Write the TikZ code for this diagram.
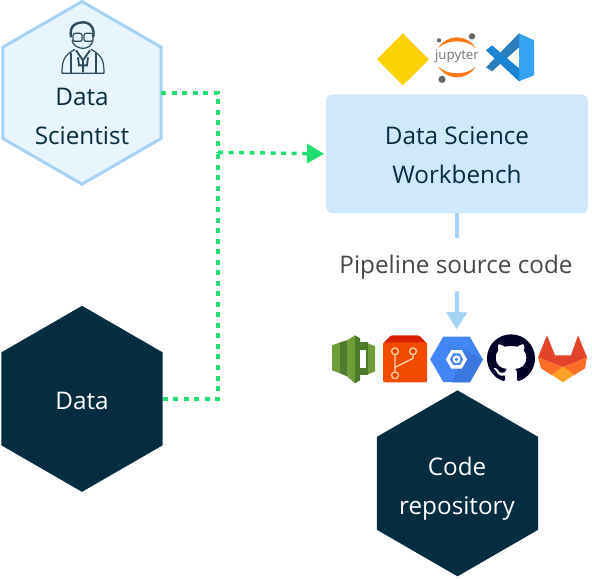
\documentclass[tikz,border=0pt]{standalone}
\usepackage{fontspec}
\setmainfont{Open Sans}
\usetikzlibrary{shapes.geometric, positioning, arrows.meta, svg.path}
\definecolor{navy}{HTML}{062C40}
\definecolor{skyline}{HTML}{A5D3F5}
\definecolor{skyfill}{HTML}{E9F5FD}
\definecolor{benchfill}{HTML}{CFE8FB}
\definecolor{linkgreen}{HTML}{1EDF6F}
\definecolor{leaflight}{HTML}{6E9E3A}
\definecolor{leafdark}{HTML}{4E7A2B}
\definecolor{gcpblue}{HTML}{4285F4}
\definecolor{gcpshade}{HTML}{3A78E0}
\definecolor{foxred}{HTML}{E24329}
\definecolor{foxorange}{HTML}{FC6D26}
\definecolor{foxyellow}{HTML}{FCA326}
\definecolor{vsdark}{HTML}{2C7DBB}
\definecolor{vsmid}{HTML}{1B85D3}
\definecolor{vslight}{HTML}{36A3F0}
\begin{document}
\begin{tikzpicture}[
  x=0.75pt, y=-0.75pt,
  every node/.style={align=center, inner sep=0pt, outer sep=0pt, font=\fontsize{18.2}{29.25}\selectfont, text=navy},
  hexbox/.style={regular polygon, regular polygon sides=6, shape border rotate=30, minimum size=139.5pt},
  persona/.style={hexbox, draw=skyline, line width=2.25pt, fill=skyfill, minimum size=137pt},
  store/.style={hexbox, fill=navy, text=white},
  bench/.style={rectangle, rounded corners=5pt, fill=benchfill, minimum width=196.5pt, minimum height=89.25pt},
  link/.style={draw=linkgreen, line width=2.6pt, dash pattern=on 3.75pt off 4.15pt},
  flow/.style={draw=skyline, line width=3pt},
  outline/.style={draw=navy!85, line width=0.9pt, line join=round}
]

% Hexagons
\node[persona] (scientist) at (82,92.5) {};
\node[store] (data) at (82,398.5) {};
\node[store] (repo) at (457.5,483) {};
\node (scientist_label) at (82,116.5) {Data\\Scientist};
\node[text=white] (data_label) at (82,400.5) {Data};
\node[text=white] (repo_label) at (457,488) {Code\\repository};

% Workbench
\node[bench] (workbench) at (457,153.5) {};
\node (workbench_label) at (457,154.5) {Data Science\\Workbench};
\node[text=black!72] (pipeline) at (456,267) {Pipeline source code};

% Scientist icon
\draw[navy!85, line width=1.8pt] (71,37) .. controls (69,25) and (76,22) .. (84,22) .. controls (92,23) and (95,29) .. (93,37);
\draw[outline] (72,40) .. controls (73,45) and (78,48) .. (83,48) .. controls (88,48) and (92,45) .. (93,40);
\draw[outline, rounded corners=1.5pt] (73,33) rectangle (82,41) (84,33) rectangle (93,41);
\draw[outline] (62,73) -- (104,73) (62,73) .. controls (62,60) and (64,55) .. (75,49) (104,73) .. controls (104,60) and (102,55) .. (91,49);
\draw[outline] (71,53) -- (71,73) (96,53) -- (96,73);
\draw[navy!85, line width=1.4pt] (76,50) -- (83,60) -- (90,50) (83,60) -- (83,72) (78,57) -- (79,65) -- (87,65) -- (88,57);

% Workbench icons
\node[diamond, fill=yellow!78!orange!95!red, minimum width=39pt, minimum height=39pt] (sagemaker) at (403,59) {};
\fill[orange!85!red!90!white] (438,48) .. controls (447,33.3) and (467,33.3) .. (476,48) .. controls (467,38.7) and (447,38.7) .. (438,48) -- cycle;
\fill[orange!85!red!90!white] (438,66) .. controls (447,80.7) and (467,80.7) .. (476,66) .. controls (467,75.3) and (447,75.3) .. (438,66) -- cycle;
\node[font=\fontsize{10}{10}\selectfont, text=gray!90!black] (jupyter) at (457,56) {jupyter};
\fill[gray!80!black] (472,36) circle (2.4pt) (439,40) circle (1.6pt) (442,79) circle (2.7pt);
\fill[vslight] (519,33) -- (534,40) -- (534,75) -- (519,81) -- cycle;
\fill[vsdark] (519,33) -- (519,47) -- (492,71) -- (486,67) -- cycle;
\fill[vsmid] (486,50) -- (492,45) -- (519,68) -- (519,81) -- cycle;

% Connectors
\coordinate (junction) at (218,152);
\draw[link] (scientist.east) -| (junction);
\draw[link] (data.east) -| (junction);
\draw[link, -{Triangle[length=12.75pt, width=14.25pt]}, shorten >=1.5pt] (junction) -- (workbench.west);
\draw[flow] (workbench.south) -- (457,238);
\node[regular polygon, regular polygon sides=6, fill=gcpblue, minimum size=39.5pt] (gcp) at (456.5,359) {};
\draw[flow, -{Triangle[length=12.75pt, width=15pt]}, shorten >=5.5pt] (457,291) -- (gcp.north);

% Repository icons
\fill[leaflight] (332,345) -- (340,342) -- (340,373) -- (332,370) -- cycle;
\fill[leafdark] (340,342) -- (347,340) -- (347,376) -- (340,373) -- cycle;
\fill[leaflight] (347,340) -- (355,335) -- (355,383) -- (347,376) -- cycle;
\fill[leafdark] (355,335) -- (360,338) -- (360,380) -- (355,383) -- cycle;
\fill[leafdark] (360,342) rectangle (368,375);
\fill[leaflight] (368,343) -- (375,346) -- (375,371) -- (368,374) -- cycle;
\fill[white] (360,350) rectangle (366,368);
\fill[orange!30!red!85!black, rounded corners=1pt] (391,335) -- (419,335) -- (427,343) -- (383,343) -- cycle;
\fill[orange!62!red!95!black, rounded corners=1pt] (383,342) rectangle (427,382);
\draw[orange!30!white, line width=0.9pt] (395,351) circle (2.6pt) (413,351) circle (2.6pt) (395,375) circle (2.6pt);
\draw[orange!30!white, line width=0.9pt] (395,355) -- (395,371) (413,355) -- (413,358) -- (395,367);
\fill[gcpshade] (465,350) -- (483,359) -- (470,382) -- (452,382) -- cycle;
\node[regular polygon, regular polygon sides=6, draw=white, line width=2.5pt, minimum size=13pt] (gcp_ring) at (456.5,359) {};
\fill[white] (456.5,359) circle (3pt);
\fill[gcpblue] (456.5,359) circle (1.3pt);
\fill[black!85!blue, shift={(487,334)}, scale=2.25, yscale=-1] svg {M8 0 C3.58 0 0 3.58 0 8 c0 3.54 2.29 6.53 5.47 7.59 c0.4 0.07 0.55 -0.17 0.55 -0.38 c0 -0.19 -0.01 -0.82 -0.01 -1.49 c-2.01 0.37 -2.53 -0.49 -2.69 -0.94 c-0.09 -0.23 -0.48 -0.94 -0.82 -1.13 c-0.28 -0.15 -0.68 -0.52 -0.01 -0.53 c0.63 -0.01 1.08 0.58 1.23 0.82 c0.72 1.21 1.87 0.87 2.33 0.66 c0.07 -0.52 0.28 -0.87 0.51 -1.07 c-1.78 -0.2 -3.64 -0.89 -3.64 -3.95 c0 -0.87 0.31 -1.59 0.82 -2.15 c-0.08 -0.2 -0.36 -1.02 0.08 -2.12 c0 0 0.67 -0.21 2.2 0.82 c0.64 -0.18 1.32 -0.27 2 -0.27 c0.68 0 1.36 0.09 2 0.27 c1.53 -1.04 2.2 -0.82 2.2 -0.82 c0.44 1.1 0.16 1.92 0.08 2.12 c0.51 0.56 0.82 1.27 0.82 2.15 c0 3.07 -1.87 3.75 -3.65 3.95 c0.29 0.25 0.54 0.73 0.54 1.48 c0 1.07 -0.01 1.93 -0.01 2.2 c0 0.21 0.15 0.46 0.55 0.38 C13.71 14.53 16 11.53 16 8 c0 -4.42 -3.58 -8 -8 -8 z};
\fill[foxred] (547,335) -- (555,355) -- (571,355) -- (578,335) -- (587,357) -- (563,367) -- (538,357) -- cycle;
\fill[foxorange] (538,357) -- (563,367) -- (552,375) -- (541,368) -- cycle (587,357) -- (563,367) -- (574,375) -- (585,368) -- cycle;
\fill[foxyellow] (563,366) -- (574,374.5) -- (563,382) -- (552,374.5) -- cycle;

\useasboundingbox (0,0) rectangle (592,578);
\end{tikzpicture}
\end{document}
